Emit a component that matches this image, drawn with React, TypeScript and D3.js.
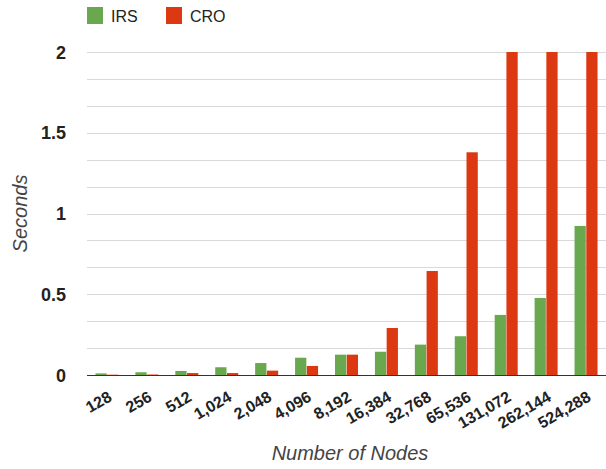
import React from "react";
import * as d3 from "d3";

const categories = ["128", "256", "512", "1,024", "2,048", "4,096", "8,192", "16,384", "32,768", "65,536", "131,072", "262,144", "524,288"];
const irsValues = [0.01, 0.017, 0.025, 0.048, 0.074, 0.107, 0.126, 0.144, 0.188, 0.24, 0.372, 0.477, 0.923];
const croValues = [0.002, 0.003, 0.012, 0.012, 0.027, 0.056, 0.126, 0.291, 0.644, 1.379, 2.9, 5.8, 11.6];
const seriesNames = ["IRS", "CRO"];
const seriesColors = ["#6aa84f", "#dc3912"];
const yTickLabels = [0, 0.5, 1, 1.5, 2];

const W = 606, H = 469;
const m = { left: 87, right: 0, top: 52, bottom: 94 };

export default function App() {
  const x = d3.scaleBand<string>().domain(categories).range([m.left, W - m.right]).paddingInner(0.4).paddingOuter(0.2);
  const x1 = d3.scaleBand<string>().domain(seriesNames).range([0, x.bandwidth()]).padding(0.04);
  const y = d3.scaleLinear().domain([0, 2]).range([H - m.bottom, m.top]).clamp(true);
  const grid = d3.range(0, 2.0001, 2 / 12);
  const data = [irsValues, croValues];
  const font = "Arial, 'Liberation Sans', sans-serif";
  return (
    <svg width={W} height={H} style={{ position: "absolute", left: 0, top: 0, background: "#fff" }} fontFamily={font}>
      {grid.map((g, i) => (
        <line key={i} x1={m.left} x2={W - m.right} y1={Math.round(y(g)) + 0.5} y2={Math.round(y(g)) + 0.5} stroke="#d9d9d9" strokeWidth={1} />
      ))}
      {yTickLabels.map((t) => (
        <text key={t} x={66} y={y(t) + 6.5} textAnchor="end" fontSize={18} fontWeight="bold" fill="#222">{t}</text>
      ))}
      {categories.map((c, i) => (
        <g key={c}>
          {data.map((vals, s) => {
            const v = vals[i];
            const top = y(v);
            return (
              <rect key={s} x={(x(c) as number) + (x1(seriesNames[s]) as number)} y={top} width={x1.bandwidth()} height={y(0) - top}
                fill={seriesColors[s]} />
            );
          })}
        </g>
      ))}
      <line x1={m.left} x2={W - m.right} y1={Math.round(y(0)) + 0.5} y2={Math.round(y(0)) + 0.5} stroke="#333" strokeWidth={1} />
      {categories.map((c) => {
        const cx = (x(c) as number) + x.bandwidth() / 2 + 6;
        const cy = 400;
        return (
          <text key={c} transform={`translate(${cx},${cy}) rotate(-30)`} textAnchor="end" fontSize={16} fontWeight="bold" fill="#222">{c}</text>
        );
      })}
      <text transform={`translate(27,${y(1)}) rotate(-90)`} textAnchor="middle" fontSize={20} fontStyle="italic" fill="#444">Seconds</text>
      <text x={350} y={460} textAnchor="middle" fontSize={20} fontStyle="italic" fill="#444">Number of Nodes</text>
      {seriesNames.map((s, i) => {
        const lx = i === 0 ? 87 : 166;
        return (
          <g key={s}>
            <rect x={lx} y={7} width={16} height={17} fill={seriesColors[i]} />
            <text x={lx + 24} y={21.5} fontSize={16} fill="#222">{s}</text>
          </g>
        );
      })}
    </svg>
  );
}
